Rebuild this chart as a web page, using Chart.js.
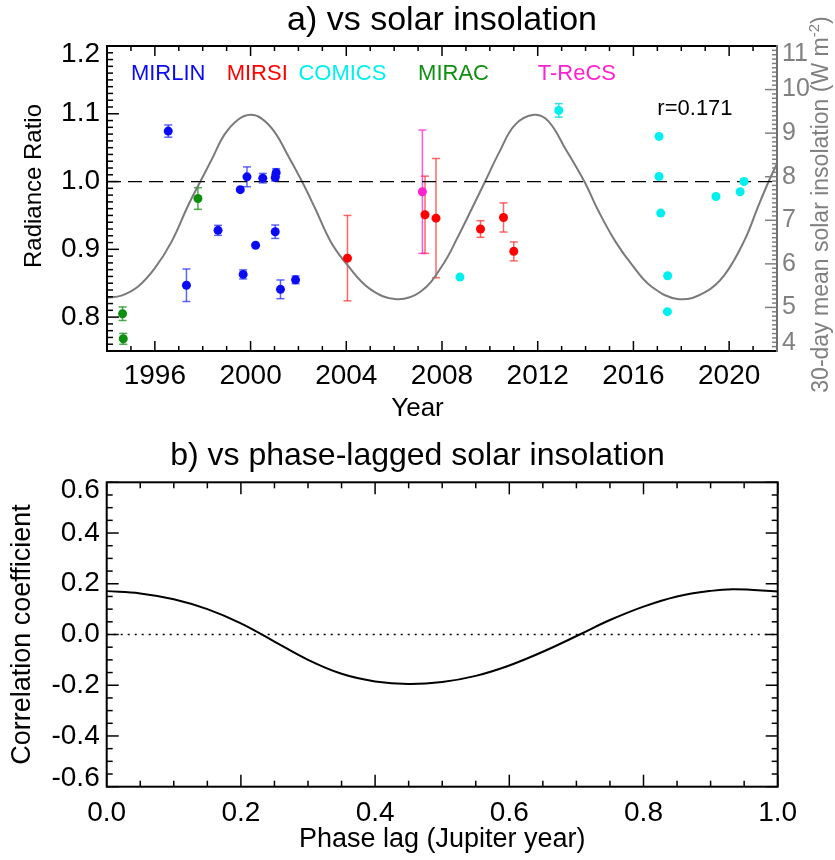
<!DOCTYPE html>
<html>
<head>
<meta charset="utf-8">
<script src="https://cdn.jsdelivr.net/npm/chart.js@4.4.1/dist/chart.umd.min.js"></script>
<style>
  html, body { margin: 0; padding: 0; background: #fff; }
  #wrap { position: relative; width: 835px; height: 860px; }
  #wrap canvas { position: absolute; left: 0; }
  #chart-a { top: 0; }
  #chart-b { top: 430px; }
</style>
</head>
<body>
<div id="wrap">
  <canvas id="chart-a" width="835" height="430"></canvas>
  <canvas id="chart-b" width="835" height="430"></canvas>
</div>
<script>
  const FONT = "'Liberation Sans', Arial, Helvetica, sans-serif";

  // ---- panel a: radiance ratio per instrument ----
  const mirlinYear = [1996.56, 1997.32, 1998.64, 1999.57, 1999.69, 1999.85, 2000.21, 2000.51, 2001.03, 2001.07, 2001.03, 2001.25, 2001.88];
  const mirlinRatio = [1.0745, 0.847, 0.928, 0.988, 0.863, 1.007, 0.906, 1.005, 1.006, 1.013, 0.926, 0.841, 0.855];
  const mirlinErr = [0.009, 0.024, 0.0074, 0, 0.0067, 0.0146, 0, 0.007, 0.005, 0.006, 0.0099, 0.0138, 0.0057];

  const mirsiYear = [2004.05, 2007.29, 2007.75, 2009.61, 2010.57, 2011.0];
  const mirsiRatio = [0.887, 0.951, 0.946, 0.930, 0.947, 0.897];
  const mirsiErr = [0.063, 0.057, 0.088, 0.0123, 0.0215, 0.014];

  const comicsYear = [2008.75, 2012.88, 2017.07, 2017.07, 2017.14, 2017.43, 2017.42, 2019.45, 2020.46, 2020.62];
  const comicsRatio = [0.859, 1.105, 1.0666, 1.0074, 0.9535, 0.861, 0.808, 0.978, 0.985, 1.0];
  const comicsErr = [0, 0.01, 0, 0, 0, 0, 0, 0, 0, 0];

  const miracYear = [1994.65, 1994.68, 1997.80];
  const miracRatio = [0.805, 0.768, 0.975];
  const miracErr = [0.010, 0.008, 0.016];

  const trecsYear = [2007.18];
  const trecsRatio = [0.985];
  const trecsErr = [0.091];

  // 30-day mean solar insolation (W m-2)
  const insolYear = [1994.0, 1994.6, 1995.3, 1996.0, 1996.7, 1997.4, 1997.9, 1998.4, 1998.9, 1999.5, 2000.0, 2000.45,
    2001.0, 2001.55, 2002.15, 2002.7, 2003.35, 2004.05, 2005.0, 2006.1, 2007.1, 2008.0, 2008.7, 2009.25, 2009.8,
    2010.4, 2011.05, 2011.85, 2012.45, 2013.15, 2013.95, 2014.55, 2015.25, 2015.95, 2016.75, 2017.9, 2019.0,
    2019.8, 2020.65, 2021.2, 2021.65, 2022.0];
  const insolValue = [5.22, 5.27, 5.48, 5.90, 6.51, 7.35, 7.89, 8.42, 8.96, 9.32, 9.42, 9.34,
    9.03, 8.50, 7.89, 7.27, 6.51, 5.97, 5.42, 5.19, 5.36, 5.95, 6.66, 7.27, 7.89,
    8.57, 9.19, 9.42, 9.27, 8.65, 7.89, 7.20, 6.51, 5.97, 5.48, 5.19, 5.35,
    5.74, 6.55, 7.30, 7.89, 8.30];

  const refLineYear = [1994, 2022];
  const refLineRatio = [1.0, 1.0];

  const yearTicks = [1996, 2000, 2004, 2008, 2012, 2016, 2020];
  const ratioTicks = [0.8, 0.9, 1.0, 1.1, 1.2];
  const insolTicks = [4, 5, 6, 7, 8, 9, 10, 11];

  const instrumentNames = ['MIRLIN', 'MIRSI', 'COMICS', 'MIRAC', 'T-ReCS'];
  const instrumentColors = ['#0a0af5', '#ff0000', '#00f0f0', '#0f8f0f', '#ff20d0'];
  const instrumentErrColors = ['rgba(40,50,245,0.75)', 'rgba(255,40,40,0.7)', 'rgba(0,220,220,0.8)', 'rgba(15,143,15,0.75)', 'rgba(255,32,208,0.75)'];
  const labelYear = [1995, 1999, 2002, 2007, 2012];
  const labelRatio = [1.15, 1.15, 1.15, 1.15, 1.15];

  // ---- panel b: correlation vs phase lag ----
  const lagValues = [0, 0.05, 0.1, 0.15, 0.2, 0.25, 0.3, 0.35, 0.4, 0.45, 0.5, 0.55, 0.6,
    0.65, 0.705, 0.75, 0.8, 0.85, 0.9, 0.935, 1.0];
  const corrValues = [0.171, 0.162, 0.139, 0.100, 0.044, -0.028, -0.100, -0.155, -0.185, -0.195, -0.187, -0.163, -0.122,
    -0.068, 0.0, 0.057, 0.110, 0.150, 0.172, 0.178, 0.170];
  const zeroLineLag = [0, 1];
  const zeroLineCorr = [0, 0];
  const lagTicks = [0, 0.2, 0.4, 0.6, 0.8, 1.0];
  const corrTicks = [-0.6, -0.4, -0.2, 0, 0.2, 0.4, 0.6];

  const pts = (xs, ys) => xs.map((x, i) => ({ x, y: ys[i] }));
  const fixedTicks = (list) => (scale) => { scale.ticks = list.map((value) => ({ value })); };

  function pointSet(i, xs, ys, errs) {
    return {
      label: instrumentNames[i],
      data: pts(xs, ys),
      errors: errs,
      errColor: instrumentErrColors[i],
      backgroundColor: instrumentColors[i],
      borderColor: instrumentColors[i],
      pointRadius: 4.5,
      borderWidth: 0,
      yAxisID: 'y',
    };
  }

  function seg(ctx, x1, y1, x2, y2) {
    ctx.beginPath();
    ctx.moveTo(x1, y1);
    ctx.lineTo(x2, y2);
    ctx.stroke();
  }

  // y labels drawn by hand so the end labels sit inside the frame, IDL style
  function yLabels(ctx, scale, values, x, align, color, size, fmt) {
    ctx.save();
    ctx.font = `${size}px ${FONT}`;
    ctx.fillStyle = color;
    ctx.textAlign = align;
    ctx.textBaseline = 'middle';
    values.forEach((v) => {
      let p = scale.getPixelForValue(v);
      if (v === scale.max) p += 8;
      if (v === scale.min) p -= 8;
      ctx.fillText(fmt(v), x, p);
    });
    ctx.restore();
  }

  const errorBars = {
    id: 'errorBars',
    beforeDatasetsDraw(chart) {
      const { ctx } = chart;
      const xs = chart.scales.x;
      ctx.save();
      ctx.lineWidth = 1.5;
      chart.data.datasets.forEach((ds) => {
        if (!ds.errors) return;
        const ys = chart.scales[ds.yAxisID];
        ctx.strokeStyle = ds.errColor;
        ds.data.forEach((p, j) => {
          const e = ds.errors[j];
          if (!e) return;
          const px = xs.getPixelForValue(p.x);
          const lo = ys.getPixelForValue(p.y - e);
          const hi = ys.getPixelForValue(p.y + e);
          seg(ctx, px, lo, px, hi);
          seg(ctx, px - 4, lo, px + 4, lo);
          seg(ctx, px - 4, hi, px + 4, hi);
        });
      });
      ctx.restore();
    },
  };

  const frameA = {
    id: 'frameA',
    afterDraw(chart) {
      const { ctx, chartArea: a, scales: { x, y, y2 } } = chart;
      ctx.save();
      ctx.lineWidth = 1.5;
      ctx.strokeStyle = '#000';
      for (let v = 1994; v <= 2022; v++) {
        const len = yearTicks.includes(v) ? 10 : 5;
        const p = x.getPixelForValue(v);
        seg(ctx, p, a.bottom, p, a.bottom - len);
        seg(ctx, p, a.top, p, a.top + len);
      }
      for (let k = 75; k <= 120; k++) {
        const len = k % 10 === 0 ? 12 : 6;
        const p = y.getPixelForValue(k / 100);
        seg(ctx, a.left, p, a.left + len, p);
      }
      ctx.strokeStyle = '#808080';
      for (let k = 40; k <= 110; k++) {
        const len = k % 10 === 0 ? 12 : 5;
        const p = y2.getPixelForValue(k / 10);
        seg(ctx, a.right, p, a.right - len, p);
      }
      ctx.lineWidth = 2;
      ctx.strokeStyle = '#000';
      ctx.beginPath();
      ctx.moveTo(a.right, a.top);
      ctx.lineTo(a.left, a.top);
      ctx.lineTo(a.left, a.bottom);
      ctx.lineTo(a.right, a.bottom);
      ctx.stroke();
      ctx.strokeStyle = '#707070';
      seg(ctx, a.right, a.top - 1, a.right, a.bottom + 1);

      yLabels(ctx, y, ratioTicks, a.left - 7, 'right', '#000', 28, (v) => v.toFixed(1));
      yLabels(ctx, y2, insolTicks, a.right + 5, 'left', '#808080', 25, (v) => String(v));

      // instrument names and correlation
      ctx.font = `22px ${FONT}`;
      ctx.textAlign = 'left';
      ctx.textBaseline = 'alphabetic';
      instrumentNames.forEach((name, i) => {
        ctx.fillStyle = instrumentColors[i];
        ctx.fillText(name, x.getPixelForValue(labelYear[i]), y.getPixelForValue(labelRatio[i]));
      });
      ctx.fillStyle = '#000';
      ctx.fillText('r=0.171', x.getPixelForValue(2017), y.getPixelForValue(1.098));

      // x title, centred on the page rather than the plot
      ctx.font = `26px ${FONT}`;
      ctx.textAlign = 'center';
      ctx.fillText('Year', chart.width / 2, 416);

      // left title
      ctx.save();
      ctx.translate(41, 186);
      ctx.rotate(-Math.PI / 2);
      ctx.font = `24px ${FONT}`;
      ctx.fillText('Radiance Ratio', 0, 0);
      ctx.restore();

      // right axis title, reading bottom to top
      const main = '30-day mean solar insolation (W m';
      ctx.textAlign = 'left';
      ctx.font = `23px ${FONT}`;
      const wMain = ctx.measureText(main).width;
      ctx.font = `15px ${FONT}`;
      const wSup = ctx.measureText('-2').width;
      ctx.font = `23px ${FONT}`;
      const wEnd = ctx.measureText(')').width;
      const total = wMain + wSup + wEnd;
      ctx.translate(a.right + 51, (a.top + a.bottom) / 2 + 6);
      ctx.rotate(-Math.PI / 2);
      ctx.fillStyle = '#808080';
      let cx = -total / 2;
      ctx.fillText(main, cx, 0);
      cx += wMain;
      ctx.font = `15px ${FONT}`;
      ctx.fillText('-2', cx, -9);
      cx += wSup;
      ctx.font = `23px ${FONT}`;
      ctx.fillText(')', cx, 0);
      ctx.restore();
    },
  };

  const frameB = {
    id: 'frameB',
    afterDraw(chart) {
      const { ctx, chartArea: a, scales: { x, y } } = chart;
      ctx.save();
      ctx.lineWidth = 1.5;
      ctx.strokeStyle = '#000';
      for (let k = 0; k <= 20; k++) {
        const len = k % 4 === 0 ? 12 : 6;
        const p = x.getPixelForValue(k * 0.05);
        seg(ctx, p, a.bottom, p, a.bottom - len);
        seg(ctx, p, a.top, p, a.top + len);
      }
      for (let k = -12; k <= 12; k++) {
        const len = k % 4 === 0 ? 12 : 6;
        const p = y.getPixelForValue(k * 0.05);
        seg(ctx, a.left, p, a.left + len, p);
        seg(ctx, a.right, p, a.right - len, p);
      }
      ctx.lineWidth = 2;
      ctx.strokeRect(a.left, a.top, a.right - a.left, a.bottom - a.top);
      ctx.restore();
      yLabels(ctx, y, corrTicks, a.left - 7, 'right', '#000', 28, (v) => v.toFixed(1));
    },
  };

  const tickFont = { family: FONT, size: 28 };
  const hidden = { display: false, drawTicks: false };

  new Chart(document.getElementById('chart-a'), {
    type: 'scatter',
    data: {
      datasets: [
        pointSet(0, mirlinYear, mirlinRatio, mirlinErr),
        pointSet(1, mirsiYear, mirsiRatio, mirsiErr),
        pointSet(2, comicsYear, comicsRatio, comicsErr),
        pointSet(3, miracYear, miracRatio, miracErr),
        pointSet(4, trecsYear, trecsRatio, trecsErr),
        {
          type: 'line', label: 'ratio 1', data: pts(refLineYear, refLineRatio), yAxisID: 'y',
          borderColor: '#000', borderWidth: 1.3, borderDash: [14, 7], pointRadius: 0,
        },
        {
          type: 'line', label: 'insolation', data: pts(insolYear, insolValue), yAxisID: 'y2',
          borderColor: '#7a7a7a', borderWidth: 2, pointRadius: 0, tension: 0.4,
        },
      ],
    },
    options: {
      responsive: false,
      animation: false,
      devicePixelRatio: 1,
      layout: { padding: 0 },
      plugins: {
        legend: { display: false },
        tooltip: { enabled: false },
        title: {
          display: true, text: 'a) vs solar insolation', fullSize: false, color: '#000',
          font: { family: FONT, size: 34, weight: 'normal' }, padding: { top: 0, bottom: 5.2 },
        },
      },
      scales: {
        x: {
          type: 'linear', min: 1994, max: 2022,
          afterBuildTicks: fixedTicks(yearTicks),
          afterFit: (s) => { s.height = 79; },
          grid: hidden, border: { display: false },
          ticks: { color: '#000', font: tickFont, padding: 8.5, maxRotation: 0, autoSkip: false, callback: (v) => String(v) },
        },
        y: {
          type: 'linear', position: 'left', min: 0.75, max: 1.2,
          afterBuildTicks: fixedTicks(ratioTicks),
          afterFit: (s) => { s.width = 107; },
          grid: hidden, border: { display: false },
          ticks: { display: false },
        },
        y2: {
          type: 'linear', position: 'right', min: 4, max: 11,
          afterBuildTicks: fixedTicks(insolTicks),
          afterFit: (s) => { s.width = 58; },
          grid: hidden, border: { display: false },
          ticks: { display: false },
        },
      },
    },
    plugins: [errorBars, frameA],
  });

  new Chart(document.getElementById('chart-b'), {
    type: 'line',
    data: {
      datasets: [
        {
          label: 'correlation', data: pts(lagValues, corrValues),
          borderColor: '#000', borderWidth: 2, pointRadius: 0, tension: 0.4,
        },
        {
          label: 'zero', data: pts(zeroLineLag, zeroLineCorr),
          borderColor: '#000', borderWidth: 1.3, borderDash: [2, 5], pointRadius: 0,
        },
      ],
    },
    options: {
      responsive: false,
      animation: false,
      devicePixelRatio: 1,
      layout: { padding: 0 },
      plugins: {
        legend: { display: false },
        tooltip: { enabled: false },
        title: {
          display: true, text: 'b) vs phase-lagged solar insolation', fullSize: true, color: '#000',
          font: { family: FONT, size: 32, weight: 'normal' }, padding: { top: 6.7, bottom: 7.2 },
        },
      },
      scales: {
        x: {
          type: 'linear', min: 0, max: 1,
          afterBuildTicks: fixedTicks(lagTicks),
          afterFit: (s) => { s.height = 73.3; },
          grid: hidden, border: { display: false },
          ticks: { color: '#000', font: tickFont, padding: 9.8, maxRotation: 0, autoSkip: false, callback: (v) => v.toFixed(1) },
          title: { display: true, text: 'Phase lag (Jupiter year)', color: '#000', font: { family: FONT, size: 27 }, padding: { top: 0, bottom: 3.8 } },
        },
        y: {
          type: 'linear', position: 'left', min: -0.6, max: 0.6,
          afterBuildTicks: fixedTicks(corrTicks),
          afterFit: (s) => { s.width = 106.7; },
          grid: hidden, border: { display: false },
          ticks: { display: false },
          title: { display: true, text: 'Correlation coefficient', color: '#000', font: { family: FONT, size: 27 }, padding: { top: 6.4, bottom: 0 } },
        },
        yr: {
          type: 'linear', position: 'right', min: -0.6, max: 0.6,
          afterFit: (s) => { s.width = 57.3; },
          grid: hidden, border: { display: false },
          ticks: { display: false },
        },
      },
    },
    plugins: [frameB],
  });
</script>
</body>
</html>
